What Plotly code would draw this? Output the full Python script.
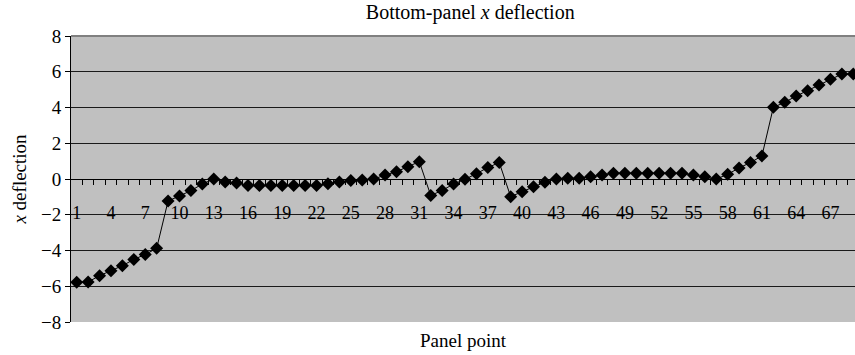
import plotly.graph_objects as go

# panel points and their x deflection
points = list(range(1, 70))
deflection = [
    -5.78, -5.76, -5.41, -5.13, -4.85, -4.50, -4.22, -3.88, -1.23, -0.95,
    -0.65, -0.28, 0.00, -0.17, -0.22, -0.37, -0.37, -0.37, -0.37, -0.37,
    -0.37, -0.37, -0.26, -0.17, -0.09, -0.06, 0.00, 0.22, 0.41, 0.69,
    0.97, -0.92, -0.64, -0.28, -0.02, 0.30, 0.64, 0.92, -0.99, -0.71,
    -0.43, -0.18, 0.00, 0.04, 0.04, 0.13, 0.22, 0.32, 0.32, 0.32,
    0.32, 0.32, 0.32, 0.32, 0.22, 0.13, 0.00, 0.26, 0.62, 0.92,
    1.29, 4.01, 4.29, 4.64, 4.94, 5.26, 5.58, 5.87, 5.87,
]
x_labels = list(range(1, 70, 3))
y_ticks = [-8, -6, -4, -2, 0, 2, 4, 6, 8]
y_text = [str(v).replace("-", "\u2212") for v in y_ticks]

serif = "Liberation Serif"

fig = go.Figure()
fig.add_trace(go.Scatter(
    x=points, y=deflection, mode="lines+markers",
    line=dict(color="black", width=1),
    marker=dict(symbol="diamond", size=10, color="black"),
    cliponaxis=True, showlegend=False,
))

fig.update_layout(
    width=855, height=355,
    margin=dict(l=71, r=0, t=36, b=33),
    paper_bgcolor="white", plot_bgcolor="#c0c0c0",
    font=dict(family=serif, size=18, color="black"),
    title=dict(text="Bottom-panel <i>x</i> deflection", x=0.55, xanchor="center",
               y=0.965, yanchor="middle", font=dict(family=serif, size=20)),
    xaxis=dict(
        range=[0.5, 69.15], anchor="free", position=0.5,
        showline=True, linecolor="black", linewidth=1,
        showgrid=False, zeroline=False,
        tickmode="array", tickvals=x_labels, ticktext=[str(v) for v in x_labels],
        ticks="", ticklabelstandoff=17, tickfont=dict(size=18),
        minor=dict(tickmode="array", tickvals=[p + 0.5 for p in points],
                   ticks="outside", ticklen=5, tickcolor="black", tickwidth=1,
                   showgrid=False),
    ),
    yaxis=dict(
        range=[-8, 8], tickmode="array", tickvals=y_ticks, ticktext=y_text,
        showline=True, linecolor="black", linewidth=1,
        ticks="outside", ticklen=5, tickcolor="black", tickfont=dict(size=19),
        showgrid=True, gridcolor="#1a1a1a", gridwidth=1, zeroline=False,
        title=dict(text="<i>x</i> deflection", standoff=9, font=dict(size=19)),
    ),
    annotations=[dict(text="Panel point", xref="paper", yref="paper", x=0.5, y=0,
                      yshift=-18, showarrow=False, xanchor="center", yanchor="middle",
                      font=dict(family=serif, size=19))],
    shapes=[dict(type="line", xref="paper", yref="paper", x0=0, x1=1, y0=1, y1=1,
                 line=dict(color="#808080", width=2))],
)

# drop the page's default body margin so the figure sits at the window origin
fig.write_html("out.html", config={"displayModeBar": False},
               post_script="document.body.style.margin='0';")
